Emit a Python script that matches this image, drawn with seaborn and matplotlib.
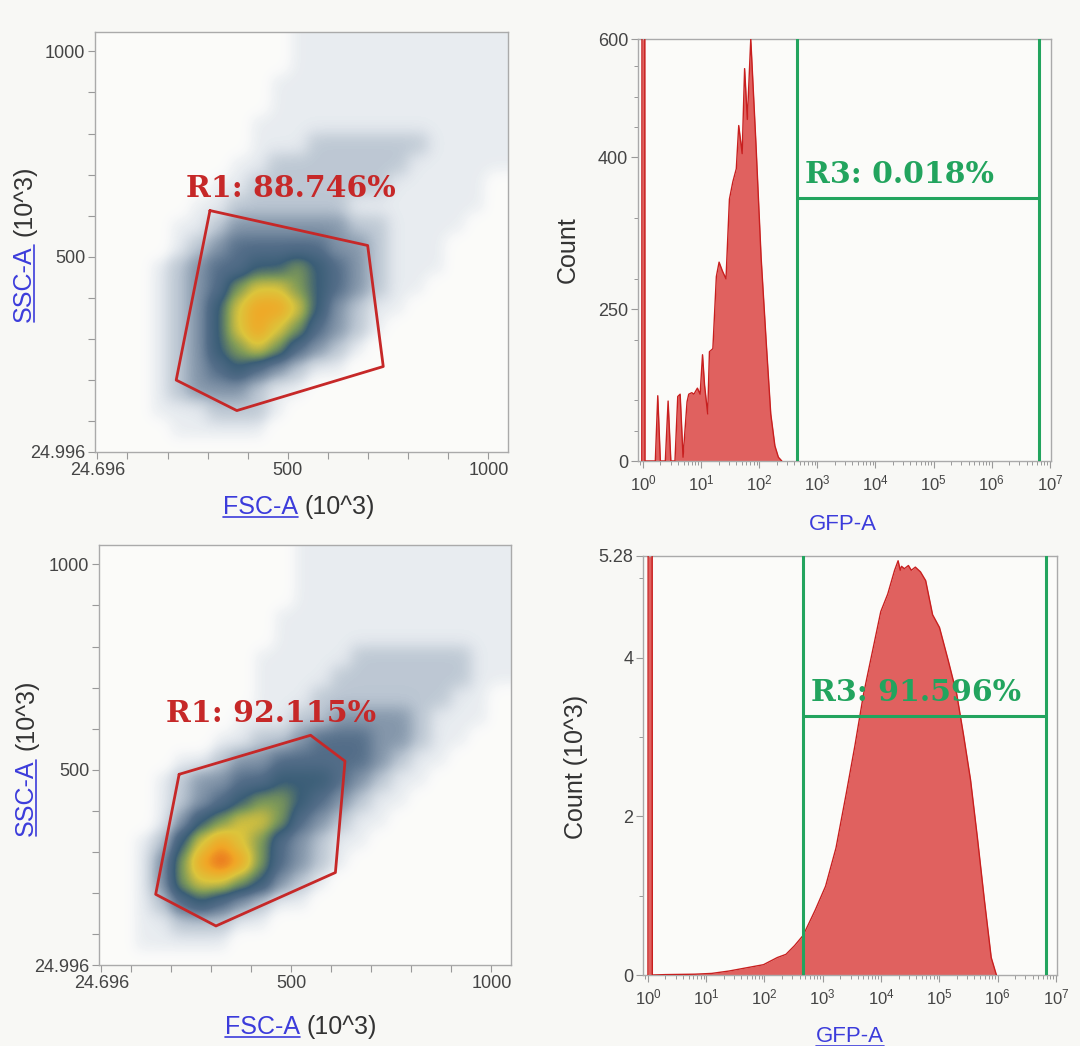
import matplotlib
matplotlib.use("Agg")
import matplotlib.pyplot as plt
import numpy as np
import pandas as pd
import seaborn as sns
from matplotlib.colors import LinearSegmentedColormap
from matplotlib.lines import Line2D
from matplotlib.ticker import (FixedFormatter, FixedLocator, FuncFormatter,
                               LogLocator, NullFormatter)

# FSC-A / SSC-A event density, levels 0-9,
# 50-unit cells, first row is SSC 1000-1050, first column FSC 0-50
density_top = [
    "000000000011111111111",
    "000000000011111111111",
    "000000000111111111111",
    "000000000111111111111",
    "000000001111111111111",
    "000000001112222221111",
    "000000011222222211111",
    "000000112222222111110",
    "000001122222211111110",
    "000011233333322111100",
    "000012344444332111000",
    "000123445565432111000",
    "000123467765432110000",
    "000123578875321100000",
    "000123578764321000000",
    "000123567643210000000",
    "000123454321100000000",
    "000123332110000000000",
    "000111222100000000000",
    "000011111000000000000",
    "000000000000000000000",
]
density_bottom = [
    "000000000011111111111",
    "000000000011111111111",
    "000000000011111111111",
    "000000000111111111111",
    "000000000111111111111",
    "000000001111122222211",
    "000000001111222222211",
    "000000001112222222110",
    "000000011122333321110",
    "000000112234443321100",
    "000011233444443211000",
    "000123344555432110000",
    "000123456654321100000",
    "000135677643211000000",
    "001257876432110000000",
    "001368986432100000000",
    "001367765321000000000",
    "001245432110000000000",
    "001122211000000000000",
    "001111100000000000000",
    "000000000000000000000",
]

# R1 gates (FSC-A, SSC-A in 10^3)
gate_top_fsc = [305.7, 699.0, 737.9, 372.7, 221.5]
gate_top_ssc = [612.5, 527.5, 233.0, 125.8, 200.0]
gate_bottom_fsc = [219.3, 548.0, 634.0, 610.0, 311.4, 160.7]
gate_bottom_ssc = [489.0, 584.0, 521.0, 250.0, 120.0, 197.0]
r1_top_label = "R1: 88.746%"
r1_bottom_label = "R1: 92.115%"

# GFP-A histograms: log10(GFP-A) and count
gfp_log_top = [-0.02, -0.015, 0.03, 0.035, 0.213, 0.255, 0.30, 0.385, 0.433, 0.48,
               0.551, 0.599, 0.64, 0.69, 0.759, 0.788, 0.84, 0.877, 0.937, 0.984,
               1.025, 1.06, 1.114, 1.144, 1.203, 1.263, 1.31, 1.369, 1.429, 1.488,
               1.547, 1.606, 1.648, 1.707, 1.749, 1.796, 1.855, 1.944, 2.033, 2.122,
               2.199, 2.27, 2.33, 2.389]
count_top = [0, 900, 900, 0, 0, 86, 0, 0, 79, 0,
             0, 85, 88, 5, 78, 88, 90, 88, 96, 88,
             140, 100, 62, 144, 148, 243, 262, 250, 240, 345,
             368, 385, 442, 405, 517, 450, 556, 418, 268, 155,
             62, 20, 5, 0]
gfp_log_bottom = [0.0, 0.005, 0.07, 0.075, 0.3, 0.8, 1.095, 1.391, 1.687, 1.983,
                  2.22, 2.368, 2.516, 2.664, 2.872, 3.049, 3.227, 3.404, 3.552, 3.7,
                  3.848, 3.996, 4.115, 4.233, 4.293, 4.33, 4.352, 4.4, 4.47, 4.52,
                  4.589, 4.677, 4.766, 4.885, 5.003, 5.151, 5.299, 5.417, 5.536, 5.654,
                  5.773, 5.891, 5.98]
count_bottom = [0, 9, 9, 0, 0.005, 0.01, 0.02, 0.05, 0.09, 0.13,
                0.22, 0.26, 0.37, 0.5, 0.82, 1.12, 1.6, 2.29, 2.89, 3.54,
                4.06, 4.58, 4.8, 5.1, 5.22, 5.1, 5.15, 5.12, 5.16, 5.1,
                5.14, 5.08, 4.97, 4.54, 4.38, 3.97, 3.54, 3.02, 2.46, 1.73,
                0.95, 0.22, 0.0]

# R3 gates: low edge, high edge, bar level
r3_top = [453, 6.56e6, 347]
r3_bottom = [461, 6.7e6, 3.26]
r3_top_label = "R3: 0.018%"
r3_bottom_label = "R3: 91.596%"

scatter_ticks_x = [24.696, 100, 200, 300, 400, 500, 600, 700, 800, 900, 1000]
scatter_ticks_y = [24.996, 100, 200, 300, 400, 500, 600, 700, 800, 900, 1000]
scatter_labels_x = ["24.696", "", "", "", "", "500", "", "", "", "", "1000"]
scatter_labels_y = ["24.996", "", "", "", "", "500", "", "", "", "", "1000"]
count_ticks_top = [0, 200, 400, 556]
count_labels_top = ["0", "250", "400", "600"]
count_ticks_bottom = [0, 2, 4, 5.28]
count_labels_bottom = ["0", "2", "4", "5.28"]

sns.set_theme(style="white")
plt.rcParams["font.family"] = ["Liberation Sans", "DejaVu Sans"]

BLUE = "#3c3cdb"
GREY = "#333333"
TICK = "#444444"
RED = "#c62828"
GREEN = "#22a45e"
W, H = 1080, 1046

flow_cmap = LinearSegmentedColormap.from_list("flow", [
    (0 / 9, (1, 1, 1, 0)), (1 / 9, "#e8ecf0"), (2 / 9, "#bcc7d3"), (3 / 9, "#8496aa"),
    (4 / 9, "#536d88"), (5 / 9, "#3b5e77"), (6 / 9, "#7f9a58"), (7 / 9, "#dcc53c"),
    (8 / 9, "#f1a626"), (9 / 9, "#e8601c")])

fig = plt.figure(figsize=(W / 100, H / 100), dpi=100, facecolor="#f8f8f5")


def px_axes(left, top, right, bottom):
    return fig.add_axes([left / W, 1 - bottom / H, (right - left) / W, (bottom - top) / H])


def style_axes(ax):
    ax.set_facecolor("#fbfbf9")
    for sp in ax.spines.values():
        sp.set_color("#aaaaaa")
        sp.set_linewidth(1.0)
    ax.tick_params(which="major", direction="out", length=5, width=0.8, color="#999999",
                   labelsize=13, labelcolor=TICK, pad=2, left=True, bottom=True)
    ax.tick_params(which="minor", direction="out", length=3, width=0.7, color="#999999",
                   left=True, bottom=True)
    ax.set_xlabel("")
    ax.set_ylabel("")


def dot_plot(ax, rows, gx, gy, label, label_xy):
    grid = np.array([[int(c) for c in r] for r in rows])
    n = grid.shape[0] * 50
    ax.imshow(grid, extent=(0, n, 0, n), origin="upper", cmap=flow_cmap, vmin=0, vmax=9,
              interpolation="gaussian", interpolation_stage="data", aspect="auto", zorder=1)
    ax.plot(gx + gx[:1], gy + gy[:1], color=RED, lw=2.0, zorder=3)
    ax.text(label_xy[0], label_xy[1], label, ha="center", va="center", color=RED,
            fontsize=21.5, fontweight="bold", family="DejaVu Serif", zorder=4)
    ax.set_xlim(19, 1049)
    ax.set_ylim(24.996, 1047)
    ax.xaxis.set_major_locator(FixedLocator(scatter_ticks_x))
    ax.xaxis.set_major_formatter(FixedFormatter(scatter_labels_x))
    ax.yaxis.set_major_locator(FixedLocator(scatter_ticks_y))
    ax.yaxis.set_major_formatter(FixedFormatter(scatter_labels_y))
    style_axes(ax)


def histogram(ax, logs, counts, gate, label, label_y, ymax, yticks, ylabels, yminor):
    df = pd.DataFrame({"gfp": np.power(10.0, logs), "count": counts})
    ax.set_xscale("log")
    ax.fill_between(df["gfp"], df["count"], color="#e0615f", lw=0, zorder=2)
    sns.lineplot(data=df, x="gfp", y="count", ax=ax, color="#c81f1f", lw=1.0,
                 estimator=None, sort=False, zorder=3)
    lo, hi, level = gate
    ax.axvline(lo, color=GREEN, lw=2.2, zorder=4)
    ax.axvline(hi, color=GREEN, lw=2.2, zorder=4)
    ax.hlines(level, lo, hi, color=GREEN, lw=2.2, zorder=4)
    ax.text(lo * 1.35, label_y, label, ha="left", va="center", color=GREEN,
            fontsize=21.5, fontweight="bold", family="DejaVu Serif", zorder=5)
    ax.set_xlim(10 ** -0.085, 10 ** 7.02)
    ax.set_ylim(0, ymax)
    ax.xaxis.set_major_locator(LogLocator(base=10, numticks=12))
    ax.xaxis.set_major_formatter(FuncFormatter(
        lambda v, p: "$\\mathregular{10^{%d}}$" % int(round(np.log10(v)))))
    ax.xaxis.set_minor_locator(LogLocator(base=10, subs=np.arange(2, 10), numticks=12))
    ax.xaxis.set_minor_formatter(NullFormatter())
    ax.yaxis.set_major_locator(FixedLocator(yticks))
    ax.yaxis.set_major_formatter(FixedFormatter(ylabels))
    ax.yaxis.set_minor_locator(FixedLocator(yminor))
    style_axes(ax)
    ax.tick_params(axis="x", labelsize=12, pad=4)


ax_tl = px_axes(95, 32, 508, 452)
dot_plot(ax_tl, density_top, gate_top_fsc, gate_top_ssc, r1_top_label, (507, 665))
ax_bl = px_axes(99, 545, 511, 965)
dot_plot(ax_bl, density_bottom, gate_bottom_fsc, gate_bottom_ssc, r1_bottom_label, (448, 638))

ax_tr = px_axes(638, 39, 1051, 461)
histogram(ax_tr, gfp_log_top, count_top, r3_top, r3_top_label, 378, 556,
          count_ticks_top, count_labels_top, [40, 80, 160, 240, 320, 440, 480, 520])
ax_br = px_axes(643, 556, 1057, 975)
histogram(ax_br, gfp_log_bottom, count_bottom, r3_bottom, r3_bottom_label, 3.56, 5.28,
          count_ticks_bottom, count_labels_bottom, [1, 3, 5])


def ftext(x, y, s, **kw):
    return fig.text(x / W, 1 - y / H, s, **kw)


labels = []
# top-left axis titles
labels.append((ftext(298, 507, "FSC-A", ha="right", va="center", color=BLUE, fontsize=18), False))
ftext(304, 507, "(10^3)", ha="left", va="center", color=GREY, fontsize=18)
labels.append((ftext(24, 322, "SSC-A", ha="center", va="bottom", rotation=90, color=BLUE,
                     fontsize=18), True))
ftext(24, 236, "(10^3)", ha="center", va="bottom", rotation=90, color=GREY, fontsize=18)
# bottom-left axis titles
labels.append((ftext(300, 1027, "FSC-A", ha="right", va="center", color=BLUE, fontsize=18), False))
ftext(306, 1027, "(10^3)", ha="left", va="center", color=GREY, fontsize=18)
labels.append((ftext(26, 836, "SSC-A", ha="center", va="bottom", rotation=90, color=BLUE,
                     fontsize=18), True))
ftext(26, 750, "(10^3)", ha="center", va="bottom", rotation=90, color=GREY, fontsize=18)
# histogram axis titles
ftext(568, 250, "Count", ha="center", va="center", rotation=90, color=GREY, fontsize=18)
ftext(843, 524, "GFP-A", ha="center", va="center", color=BLUE, fontsize=16)
ftext(576, 767, "Count (10^3)", ha="center", va="center", rotation=90, color=GREY, fontsize=18)
labels.append((ftext(850, 1037, "GFP-A", ha="center", va="center", color=BLUE, fontsize=16), False))

fig.canvas.draw()
fw, fh = fig.bbox.width, fig.bbox.height
for txt, vertical in labels:
    bb = txt.get_window_extent()
    if vertical:
        x = (bb.x1 - 2) / fw
        fig.add_artist(Line2D([x, x], [bb.y0 / fh, bb.y1 / fh], transform=fig.transFigure,
                              color=BLUE, lw=1.2))
    else:
        y = (bb.y0 + 2) / fh
        fig.add_artist(Line2D([bb.x0 / fw, bb.x1 / fw], [y, y], transform=fig.transFigure,
                              color=BLUE, lw=1.2))

fig.savefig("out.png", dpi=100, facecolor=fig.get_facecolor())
plt.close(fig)
